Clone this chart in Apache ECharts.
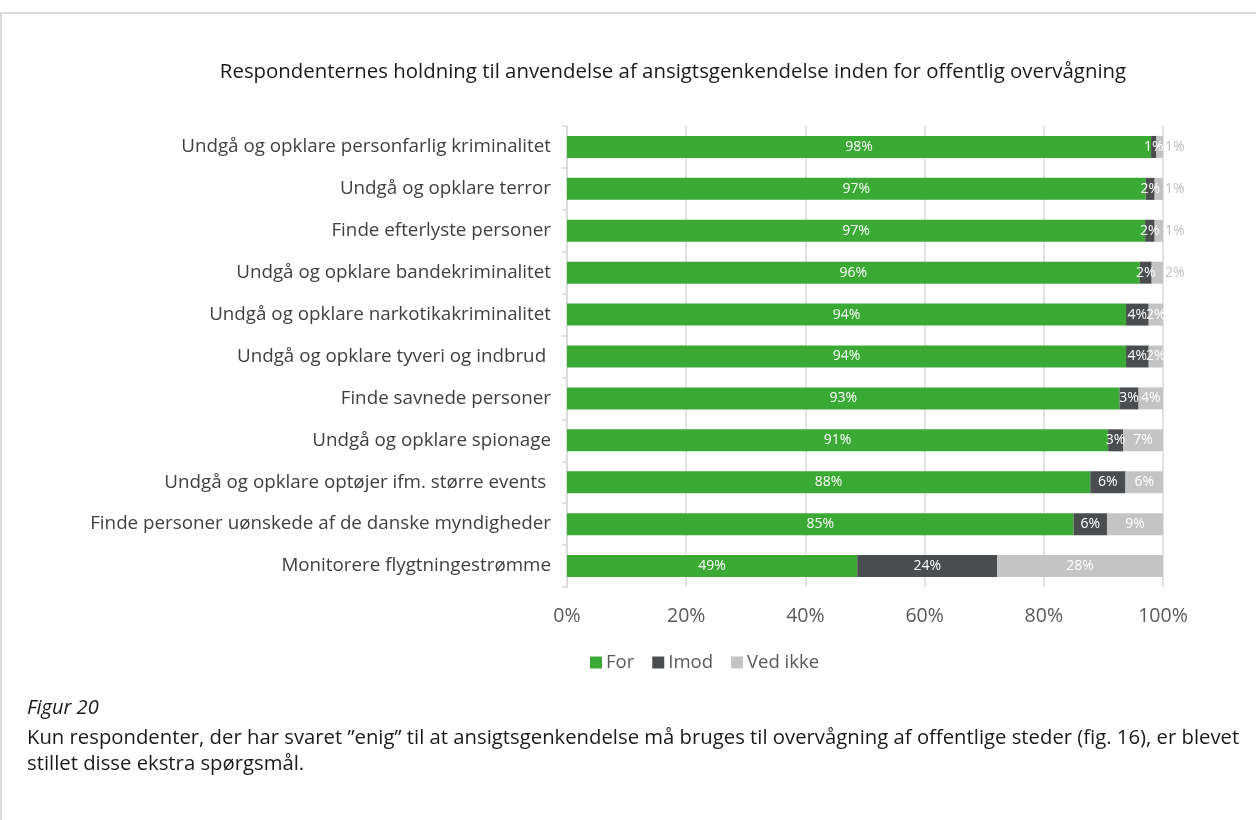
<!DOCTYPE html>
<html>
<head>
<meta charset="utf-8">
<script src="https://cdn.jsdelivr.net/npm/echarts@6/dist/echarts.min.js"></script>
<style>
  html, body { margin: 0; padding: 0; background: #fff; }
  #chart { width: 1256px; height: 820px; }
</style>
</head>
<body>
<div id="chart"></div>
<script>
const categories = [
  'Undgå og opklare personfarlig kriminalitet',
  'Undgå og opklare terror',
  'Finde efterlyste personer',
  'Undgå og opklare bandekriminalitet',
  'Undgå og opklare narkotikakriminalitet',
  'Undgå og opklare tyveri og indbrud ',
  'Finde savnede personer',
  'Undgå og opklare spionage',
  'Undgå og opklare optøjer ifm. større events ',
  'Finde personer uønskede af de danske myndigheder',
  'Monitorere flygtningestrømme'
];
const forValues = [98.0, 97.1, 97.0, 96.1, 93.8, 93.8, 92.7, 90.8, 87.8, 85.0, 48.7];
const imodValues = [0.9, 1.5, 1.6, 2.0, 3.8, 3.8, 3.2, 2.5, 5.9, 5.6, 23.5];
const vedIkkeValues = [1.1, 1.4, 1.4, 1.9, 2.4, 2.4, 4.1, 6.7, 6.3, 9.4, 27.8];
const xTicks = [0, 20, 40, 60, 80, 100];

const font = 'Open Sans';
const pct = p => Math.round(p.value) + '%';

// small "Ved ikke" segments get their label outside the bar, like the original
const vedIkkeData = vedIkkeValues.map(v => v < 2
  ? { value: v, label: { position: 'right', distance: 2, color: '#bfbfbf' } }
  : v);

const myChart = echarts.init(document.getElementById('chart'));

const option = {
  animation: false,
  title: {
    text: 'Respondenternes holdning til anvendelse af ansigtsgenkendelse inden for offentlig overvågning',
    left: 668,
    textAlign: 'center',
    top: 57,
    textStyle: { fontFamily: font, fontSize: 20.4, fontWeight: 'normal', color: '#1a1a1a' }
  },
  legend: {
    data: ['For', 'Imod', 'Ved ikke'],
    left: 585,
    top: 648,
    icon: 'rect',
    itemWidth: 12,
    itemHeight: 12,
    itemGap: 18,
    textStyle: { fontFamily: font, fontSize: 18.5, color: '#595959', padding: [0, 0, 0, -1] }
  },
  grid: { left: 567, right: 93, top: 126, bottom: 233 },
  xAxis: {
    type: 'value',
    min: 0,
    max: 100,
    interval: 20,
    axisLine: { show: false },
    axisTick: { show: false },
    splitLine: { lineStyle: { color: '#d9d9d9', width: 1.5 } },
    axisLabel: {
      margin: 19,
      fontFamily: font,
      fontSize: 19.5,
      color: '#595959',
      formatter: v => xTicks.includes(v) ? v + '%' : ''
    }
  },
  yAxis: {
    type: 'category',
    inverse: true,
    data: categories,
    axisLine: { lineStyle: { color: '#d9d9d9', width: 1.5 } },
    axisTick: { show: true, length: 5, lineStyle: { color: '#d9d9d9', width: 1.5 } },
    axisLabel: { margin: 16, fontFamily: font, fontSize: 18.8, color: '#404040' }
  },
  series: [
    {
      name: 'For', type: 'bar', stack: 'all', barWidth: 22,
      itemStyle: { color: '#3aaa35' },
      label: { show: true, position: 'inside', color: '#fff', fontFamily: font, fontSize: 14, formatter: pct },
      data: forValues
    },
    {
      name: 'Imod', type: 'bar', stack: 'all', barWidth: 22,
      itemStyle: { color: '#4a4d50' },
      label: { show: true, position: 'inside', color: '#fff', fontFamily: font, fontSize: 14, formatter: pct },
      data: imodValues
    },
    {
      name: 'Ved ikke', type: 'bar', stack: 'all', barWidth: 22,
      itemStyle: { color: '#c4c4c4' },
      label: { show: true, position: 'inside', color: '#fff', fontFamily: font, fontSize: 14, formatter: pct },
      data: vedIkkeData
    }
  ],
  graphic: [
    {
      type: 'rect',
      shape: { x: 1, y: 13, width: 1400, height: 1000 },
      style: { fill: 'none', stroke: '#dcdcdf', lineWidth: 2 },
      silent: true
    },
    {
      type: 'text',
      left: 27,
      top: 698,
      style: { text: 'Figur 20', fontFamily: font, fontStyle: 'italic', fontSize: 20, fill: '#1a1a1a' }
    },
    {
      type: 'text',
      left: 27,
      top: 725,
      style: {
        text: 'Kun respondenter, der har svaret ”enig” til at ansigtsgenkendelse må bruges til overvågning af offentlige steder (fig. 16), er blevet\nstillet disse ekstra spørgsmål.',
        fontFamily: font,
        fontSize: 20.3,
        lineHeight: 26,
        fill: '#1a1a1a'
      }
    }
  ]
};

myChart.setOption(option);
</script>
</body>
</html>
